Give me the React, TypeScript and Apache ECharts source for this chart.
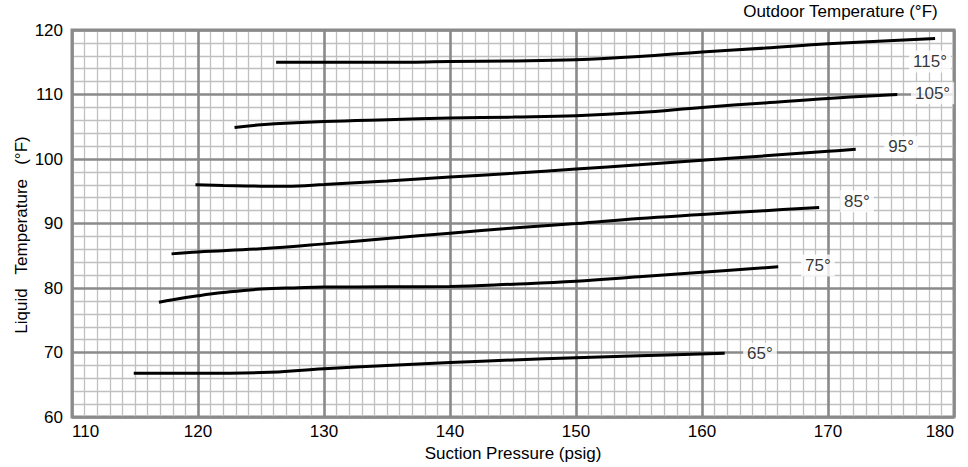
import React, { useEffect, useRef } from "react";
import * as echarts from "echarts";

// Axis ranges
const pressureMin = 110;
const pressureMax = 180;
const tempMin = 60;
const tempMax = 120;

// Curve labels (outdoor temperature)
const outdoorLabels = ["115°", "105°", "95°", "85°", "75°", "65°"];

// 115°F curve
const p115 = [126.2, 130, 135, 140, 145, 150, 155, 160, 165, 170, 178.5];
const t115 = [115.0, 115.0, 115.0, 115.1, 115.2, 115.4, 115.9, 116.6, 117.2, 117.85, 118.7];

// 105°F curve
const p105 = [122.9, 125, 130, 135, 140, 145, 150, 155, 160, 165, 170, 175.5];
const t105 = [104.9, 105.3, 105.8, 106.1, 106.35, 106.5, 106.7, 107.2, 108.0, 108.7, 109.4, 110.0];

// 95°F curve
const p95 = [119.8, 122, 125, 127, 130, 135, 140, 145, 150, 155, 160, 165, 170, 172.2];
const t95 = [96.0, 95.9, 95.8, 95.8, 96.05, 96.6, 97.2, 97.8, 98.45, 99.1, 99.8, 100.5, 101.2, 101.5];

// 85°F curve
const p85 = [117.9, 120, 125, 130, 135, 140, 145, 150, 155, 160, 165, 169.3];
const t85 = [85.3, 85.6, 86.1, 86.85, 87.7, 88.5, 89.3, 90.0, 90.8, 91.4, 92.0, 92.5];

// 75°F curve
const p75 = [116.9, 118, 120, 122, 125, 128, 130, 135, 140, 145, 150, 155, 160, 166.05];
const t75 = [77.8, 78.2, 78.8, 79.3, 79.85, 80.05, 80.15, 80.2, 80.25, 80.6, 81.05, 81.75, 82.45, 83.3];

// 65°F curve
const p65 = [114.9, 120, 125, 130, 135, 140, 145, 150, 155, 161.8];
const t65 = [66.8, 66.8, 66.9, 67.5, 68.0, 68.45, 68.85, 69.2, 69.5, 69.9];

// Where each curve label sits (data coordinates)
const labelPressure = [178.1, 178.3, 175.8, 172.3, 169.2, 164.6];
const labelTemp = [115.1, 110.2, 101.9, 93.45, 83.5, 69.8];

const curvesP = [p115, p105, p95, p85, p75, p65];
const curvesT = [t115, t105, t95, t85, t75, t65];

const FONT = "'Liberation Sans', Arial, Helvetica, sans-serif";

export default function App() {
  const ref = useRef<HTMLDivElement>(null);

  useEffect(() => {
    if (!ref.current) return;
    const chart = echarts.init(ref.current, null, { renderer: "svg" });

    const lineSeries = curvesP.map((ps, i) => ({
      type: "line",
      name: outdoorLabels[i],
      xAxisIndex: 1,
      yAxisIndex: 1,
      smooth: 0.4,
      showSymbol: false,
      symbol: "none",
      lineStyle: { color: "#000", width: 3 },
      z: 5,
      data: ps.map((p, j) => [p, curvesT[i][j]]),
    }));

    const labelSeries = {
      type: "scatter",
      xAxisIndex: 1,
      yAxisIndex: 1,
      symbolSize: 0,
      z: 6,
      data: labelPressure.map((p, i) => ({ value: [p, labelTemp[i]], name: outdoorLabels[i] })),
      label: {
        show: true,
        position: "inside",
        formatter: (d: any) => d.name,
        fontFamily: FONT,
        fontSize: 17,
        color: "#000",
        backgroundColor: "#fff",
        padding: [3, 4, 2, 4],
      },
    };

    const common = {
      type: "value",
      axisTick: { show: false },
    };

    chart.setOption({
      animation: false,
      backgroundColor: "#fff",
      textStyle: { fontFamily: FONT },
      title: {
        text: "Outdoor Temperature (°F)",
        right: 30,
        top: 3,
        padding: 0,
        textStyle: { fontFamily: FONT, fontSize: 17, fontWeight: "normal", color: "#000" },
      },
      grid: {
        left: 72,
        right: 14,
        top: 30,
        bottom: 46,
        show: true,
        borderColor: "#8a8a8a",
        borderWidth: 3,
        backgroundColor: "#fff",
      },
      xAxis: [
        {
          ...common,
          position: "top",
          min: pressureMin,
          max: pressureMax,
          interval: 10,
          z: 0,
          axisLine: { show: false },
          axisLabel: { show: false },
          splitLine: { show: false },
          minorTick: { show: false, splitNumber: 10 },
          minorSplitLine: { show: true, lineStyle: { color: "#c0c0c0", width: 1.3 } },
        },
        {
          ...common,
          position: "bottom",
          min: pressureMin,
          max: pressureMax,
          interval: 10,
          z: 1,
          name: "Suction Pressure (psig)",
          nameLocation: "middle",
          nameGap: 24,
          nameTextStyle: { fontFamily: FONT, fontSize: 17, color: "#000" },
          axisLine: { show: false },
          axisLabel: {
            fontFamily: FONT,
            fontSize: 17,
            color: "#000",
            margin: 6,
            alignMinLabel: "left",
            alignMaxLabel: "right",
          },
          splitLine: { show: true, lineStyle: { color: "#8a8a8a", width: 2.6 } },
        },
      ],
      yAxis: [
        {
          ...common,
          position: "right",
          min: tempMin,
          max: tempMax,
          interval: 10,
          z: 0,
          axisLine: { show: false },
          axisLabel: { show: false },
          splitLine: { show: false },
          minorTick: { show: false, splitNumber: 5 },
          minorSplitLine: { show: true, lineStyle: { color: "#c0c0c0", width: 1.3 } },
        },
        {
          ...common,
          position: "left",
          min: tempMin,
          max: tempMax,
          interval: 10,
          z: 1,
          axisLine: { show: false },
          axisLabel: { fontFamily: FONT, fontSize: 17, color: "#000", margin: 9 },
          splitLine: { show: true, lineStyle: { color: "#8a8a8a", width: 2.6 } },
        },
      ],
      graphic: [
        {
          type: "text",
          x: 21,
          y: 235,
          rotation: Math.PI / 2,
          style: {
            text: "Liquid   Temperature   (°F)",
            fontFamily: FONT,
            fontSize: 17,
            fill: "#000",
            textAlign: "center",
            textVerticalAlign: "middle",
          },
        },
      ],
      series: [...lineSeries, labelSeries],
    });

    return () => chart.dispose();
  }, []);

  return (
    <div
      ref={ref}
      style={{ position: "fixed", left: 0, top: 0, width: 968, height: 467 }}
    />
  );
}
